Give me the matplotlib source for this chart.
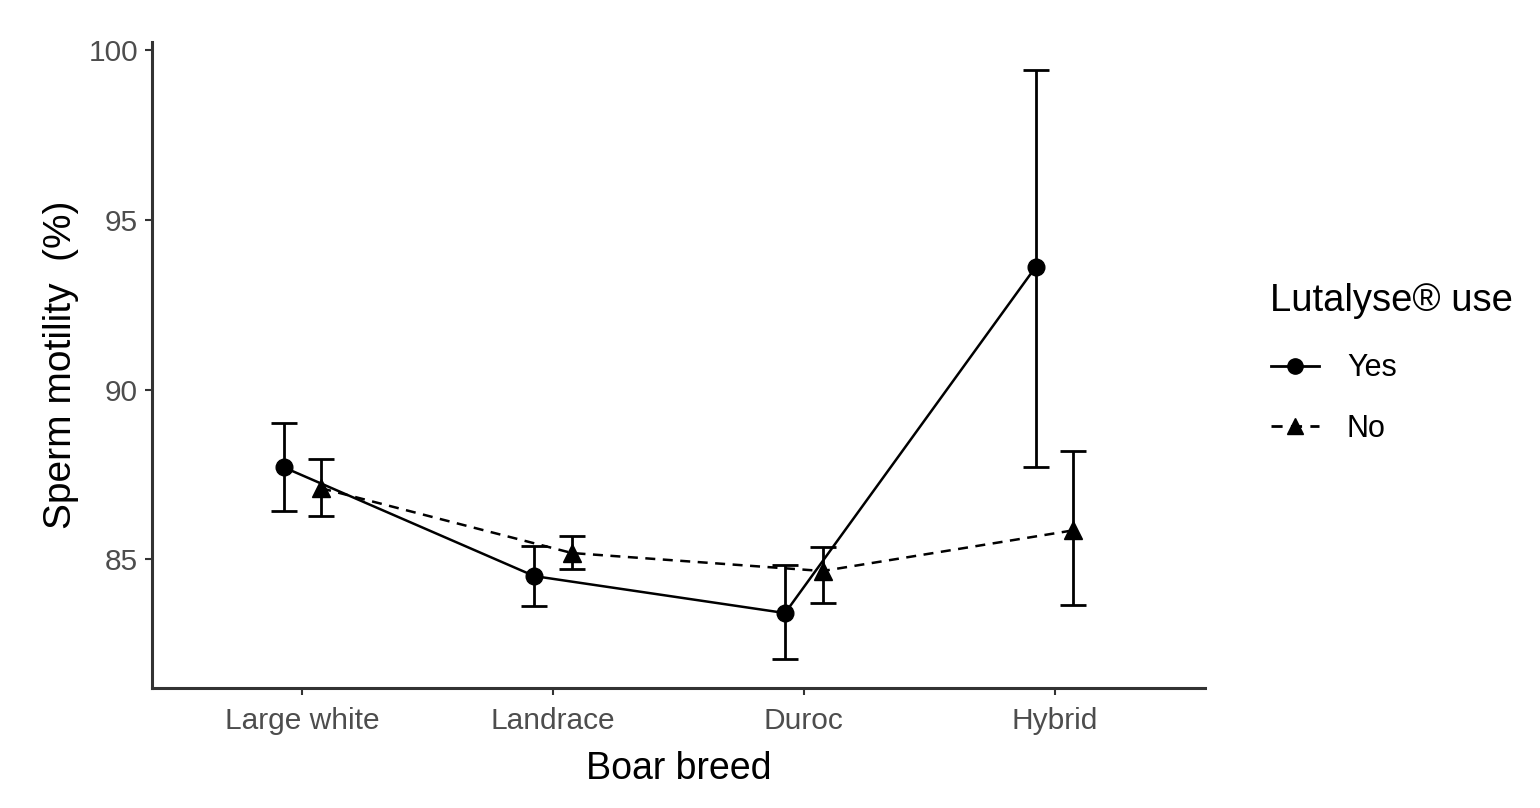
import numpy as np
import matplotlib.pyplot as plt
from matplotlib.lines import Line2D

plt.rcParams['font.family'] = ['Liberation Sans', 'DejaVu Sans']

breeds = ['Large white', 'Landrace', 'Duroc', 'Hybrid']

# Lutalyse use = Yes
yes_mean = [87.71, 84.50, 83.41, 93.62]
yes_low = [86.41, 83.62, 82.06, 87.71]
yes_high = [89.00, 85.38, 84.82, 99.41]

# Lutalyse use = No
no_mean = [87.09, 85.18, 84.65, 85.85]
no_low = [86.26, 84.71, 83.71, 83.65]
no_high = [87.94, 85.68, 85.35, 88.18]

dodge = 0.075
x = np.arange(len(breeds))

fig = plt.figure(figsize=(15.4, 8.08), dpi=100)
ax = fig.add_axes([152/1540, 1-688/808, (1205-152)/1540, (688-42)/808])

def draw(xs, mean, low, high, marker, ls, ms):
    mean = np.array(mean)
    err = [mean - np.array(low), np.array(high) - mean]
    ax.errorbar(xs, mean, yerr=err, fmt='none', ecolor='black',
                elinewidth=2.0, capsize=9.5, capthick=2.0, zorder=2)
    ax.plot(xs, mean, color='black', linestyle=ls, linewidth=1.8,
            marker=marker, markersize=ms, zorder=3)

draw(x - dodge, yes_mean, yes_low, yes_high, 'o', '-', 12)
draw(x + dodge, no_mean, no_low, no_high, '^', (0, (4, 3)), 13)

ax.set_xlim(-0.6, 3.6)
ax.set_ylim(81.2, 100.25)
ax.set_xticks(x)
ax.set_xticklabels(breeds)
ax.set_yticks([85, 90, 95, 100])

for s in ['top', 'right']:
    ax.spines[s].set_visible(False)
for s in ['left', 'bottom']:
    ax.spines[s].set_linewidth(2.2)
    ax.spines[s].set_color('#333333')

ax.tick_params(axis='both', colors='#333333', labelcolor='#4d4d4d',
               labelsize=21.5, length=5, width=1.5)
ax.tick_params(axis='x', pad=9)
ax.tick_params(axis='y', pad=5)

ax.set_xlabel('Boar breed', fontsize=27, labelpad=11)
ax.set_ylabel('Sperm motility  (%)', fontsize=28, labelpad=7)

handles = [
    Line2D([], [], color='black', linestyle='-', linewidth=2, marker='o', markersize=11),
    Line2D([], [], color='black', linestyle=(0, (4, 3)), linewidth=2, marker='^', markersize=12),
]
leg = fig.legend(handles, ['Yes', 'No'], title='Lutalyse® use',
                 loc='upper left', bbox_to_anchor=(1243/1540, 1-255/808),
                 frameon=False, fontsize=22, title_fontsize=27.5,
                 handlelength=1.6, labelspacing=1.0, handletextpad=0.9)
leg._legend_box.align = 'left'
leg._legend_box.sep = 25

fig.savefig('out.png', dpi=100)
